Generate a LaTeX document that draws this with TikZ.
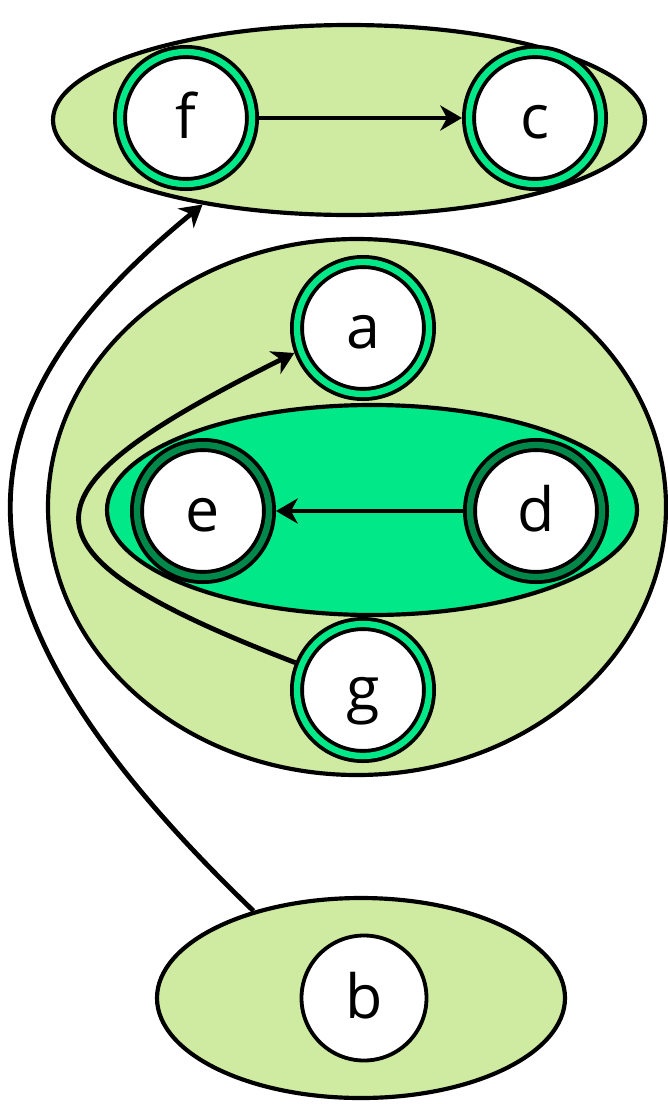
\documentclass[tikz,border=0pt]{standalone}
\usepackage{fontspec}
\setmainfont{Open Sans}
\usetikzlibrary{shapes.geometric,arrows.meta}
\definecolor{leaf}{HTML}{CEEBA1}
\definecolor{mint}{HTML}{00E887}
\definecolor{pine}{HTML}{00884A}
\begin{document}
\begin{tikzpicture}[x=0.3mm,y=-0.3mm,
		group/.style={ellipse, draw, line width=1.25mm, fill=#1, inner sep=0pt},
		vertex/.style={circle, draw, fill=white, line width=1.15mm, inner sep=0pt, text height=14mm, text depth=2mm, font=\fontsize{52}{52}\selectfont},
		ring/.style={vertex, minimum size=39.6mm, outer sep=2.1mm, double distance=1.9mm, double=#1},
		link/.style={-{Stealth[length=6.5mm,width=7.5mm,inset=2mm]}, line width=1.45mm}]
	\useasboundingbox (0,0) rectangle (667,1104);
	\node[group=leaf, minimum width=177.6mm, minimum height=57mm] (grpfc) at (349,120) {};
	\node[group=leaf, minimum width=185.4mm, minimum height=160.8mm] (grpa) at (357,507) {};
	\node[group=mint, minimum width=159mm, minimum height=63mm] (grpde) at (372,510) {};
	\node[group=leaf, minimum width=122.4mm, minimum height=60mm] (grpb) at (361,998) {};
	\node[ring=mint] (f) at (186,118) {f};
	\node[ring=mint] (c) at (535,118) {c};
	\node[ring=mint] (a) at (363,328) {a};
	\node[ring=pine] (e) at (203,511) {e};
	\node[ring=pine] (d) at (536,511) {d};
	\node[ring=mint] (g) at (363,690) {g};
	\node[vertex, minimum size=37.5mm] (b) at (364,998) {b};
	\draw[link] (f) -- (c);
	\draw[link] (d) -- (e);
	\draw[link] (g.158) .. controls (2,550) and (15,492) .. (a.200);
	\draw[link] (grpb.141) .. controls (-69.5,600.6) and (-50.8,411.6) .. (grpfc.210);
\end{tikzpicture}
\end{document}
